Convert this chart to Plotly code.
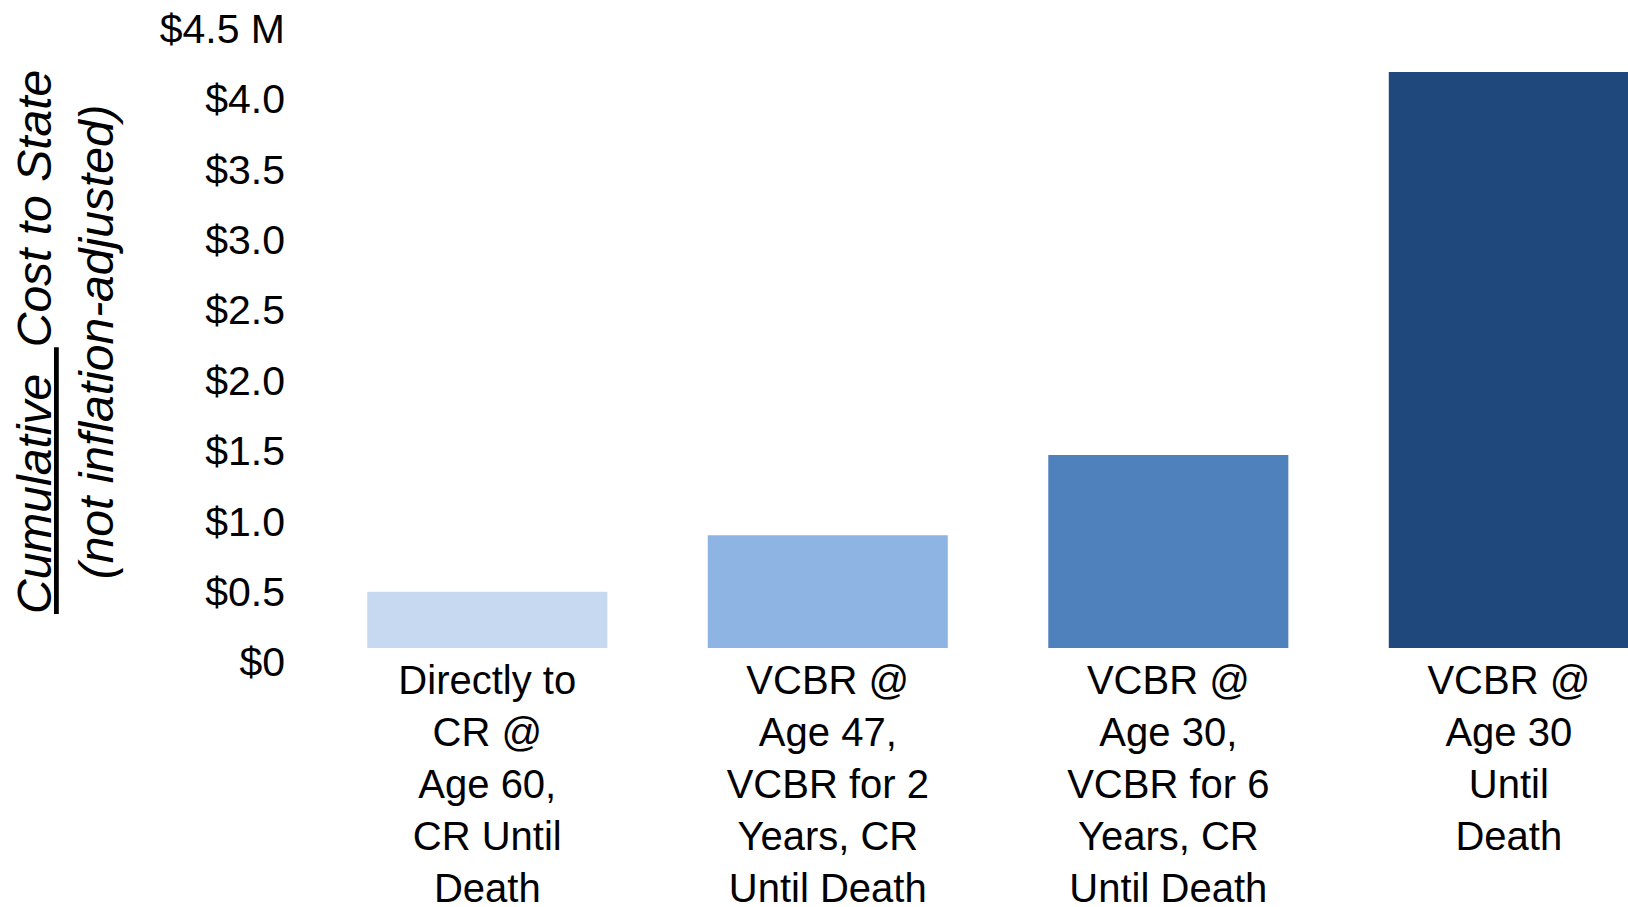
import plotly.graph_objects as go

categories = [
    "Directly to<br>CR @<br>Age 60,<br>CR Until<br>Death",
    "VCBR @<br>Age 47,<br>VCBR for 2<br>Years, CR<br>Until Death",
    "VCBR @<br>Age 30,<br>VCBR for 6<br>Years, CR<br>Until Death",
    "VCBR @<br>Age 30<br>Until<br>Death",
]
costs_musd = [0.40, 0.80, 1.37, 4.09]
bar_colors = ["#C6D9F1", "#8EB4E3", "#4F81BD", "#1F497D"]
ytick_vals = [0, 0.5, 1.0, 1.5, 2.0, 2.5, 3.0, 3.5, 4.0, 4.5]
ytick_text = ["$0", "$0.5", "$1.0", "$1.5", "$2.0", "$2.5", "$3.0", "$3.5", "$4.0", "$4.5 M"]
y_title = "<i><u>Cumulative\u00a0\u00a0</u>Cost to State<br>(not inflation-adjusted)</i>"

FONT = "Liberation Sans, Arial, sans-serif"

fig = go.Figure(
    go.Bar(
        x=list(range(len(categories))),
        y=costs_musd,
        marker=dict(color=bar_colors, line=dict(width=0)),
        hoverinfo="skip",
    )
)

fig.update_layout(
    width=1628,
    height=907,
    margin=dict(l=300, r=0, t=0, b=259, autoexpand=False),
    paper_bgcolor="white",
    plot_bgcolor="white",
    bargap=0.295,
    showlegend=False,
    font=dict(family=FONT, color="black"),
    annotations=[
        dict(
            text=y_title,
            textangle=-90,
            xref="paper",
            yref="paper",
            x=0,
            y=0.4722,
            xshift=-235,
            xanchor="center",
            yanchor="middle",
            showarrow=False,
            font=dict(family=FONT, size=48, color="black"),
        )
    ],
)

fig.update_xaxes(
    tickmode="array",
    tickvals=list(range(len(categories))),
    ticktext=categories,
    range=[-0.55, 3.35],
    showgrid=False,
    zeroline=False,
    showline=False,
    ticks="",
    tickangle=0,
    tickfont=dict(family=FONT, size=40, color="black"),
    ticklabelstandoff=5,
    automargin=False,
)

fig.update_yaxes(
    tickmode="array",
    tickvals=ytick_vals,
    ticktext=ytick_text,
    range=[0, 4.602],
    showgrid=False,
    zeroline=False,
    showline=False,
    ticks="",
    tickfont=dict(family=FONT, size=41, color="black"),
    ticklabelshift=14,
    ticklabelstandoff=14,
    automargin=False,
)

fig.write_html(
    "out.html",
    config={"displayModeBar": False},
    post_script="document.body.style.margin='0';document.body.style.overflow='hidden';",
)
